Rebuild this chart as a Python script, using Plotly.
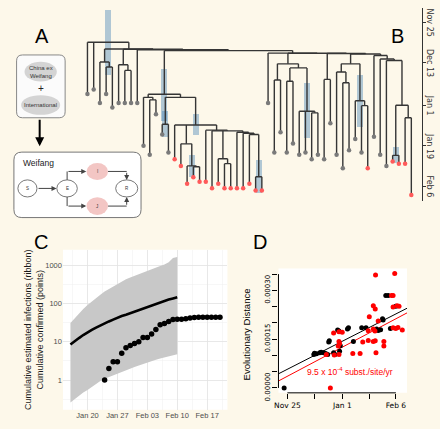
import plotly.graph_objects as go
import pandas as pd

W, H = 440, 429
CREAM = "#FDF8EA"
FONT = "Liberation Sans, Arial, sans-serif"

# ---------------- Panel B: time-scaled tree -----------------
tree_tick_days = [0, 18, 37, 55, 73]
tree_tick_text = ["Nov 25", "Dec 13", "Jan 1", "Jan 19", "Feb 6"]

tip_days = [32, 30, 36, 32, 38, 36, 36, 36, 36,
            55, 59, 41, 50, 58, 61, 64, 72, 69, 71, 71, 74, 72, 74, 74, 74, 74, 72, 75, 75,
            36, 58, 49, 58, 54, 59, 58, 61, 59, 61, 45, 59, 65, 57, 52, 58, 65, 51, 59, 64,
            62, 63, 63, 77]
red_tips = [14, 15, 16, 17, 18, 19, 20, 21, 22, 23, 24, 25, 26, 27, 28, 45, 49, 50, 51, 52]

tree_nodes = {
    "root": (9.0, [0, 1, "A"]),
    "A": (12.0, ["N1", "A2"]),
    "A2": (12.1, ["N2", "A3"]),
    "A3": (12.3, [8, "B"]),
    "N1": (17.8, [2, "N1a"]),
    "N1a": (20.0, [3, 4]),
    "N2": (19.0, [5, "N2a"]),
    "N2a": (21.5, [6, 7]),
    "B": (12.7, ["C2", "D"]),
    "C2": (32.1, ["P", "Q"]),
    "P": (33.5, [9, "P1"]),
    "P1": (34.6, [10, 11]),
    "Q": (33.5, ["Q1", "S"]),
    "Q1": (45.5, [12, 13]),
    "S": (45.8, [14, "S1", "T"]),
    "S1": (54.2, [15, "S2"]),
    "S2": (64.0, [16, "S3"]),
    "S3": (64.4, [17, 18]),
    "T": (48.1, [19, "T2"]),
    "T2": (48.4, [20, "U", "T3"]),
    "U": (60.8, [21, "U1"]),
    "U1": (63.0, [22, 23]),
    "T3": (49.0, [24, "T4"]),
    "T4": (49.5, [25, "T5"]),
    "T5": (50.0, [26, "V"]),
    "V": (68.8, [27, 28]),
    "D": (13.8, [29, "D2"]),
    "D2": (13.9, ["E1", "D3"]),
    "D3": (14.0, ["E2", "D4"]),
    "D4": (14.2, ["E3", "F"]),
    "E1": (18.6, ["E1a", "E1b"]),
    "E1a": (25.8, [30, 31]),
    "E1b": (20.4, ["E1c", "E1d"]),
    "E1c": (26.3, [32, 33]),
    "E1d": (39.7, [34, 35, "E1e"]),
    "E1e": (40.4, [36, 37]),
    "E2": (25.5, [38, 39]),
    "E3": (18.6, ["E3a", "E3c"]),
    "E3a": (22.2, [40, "E3b"]),
    "E3b": (27.0, [41, 42]),
    "E3c": (35.0, [43, "E3d"]),
    "E3d": (37.2, [44, 45]),
    "F": (14.9, [46, "G"]),
    "G": (16.4, [47, "H"]),
    "H": (17.1, [48, "I"]),
    "I": (37.0, ["I1", "I2"]),
    "I1": (59.3, [49, 50]),
    "I2": (42.6, [51, 52]),
}

# node-height 95% HPD intervals (days since Nov 25)
hpd_nodes = ["root", "C2", "Q1", "S", "S2", "V", "E1d", "E3c", "I1"]
hpd_low = [-5.5, 20.7, 39.7, 40.8, 59.3, 61.5, 27.3, 23.4, 55.6]
hpd_high = [23.4, 43.8, 51.0, 50.1, 68.8, 76.1, 51.6, 46.6, 62.7]

# ---------------- Panel C: epidemic curve -----------------
est_dates = pd.date_range("2020-01-16", "2020-02-10", freq="D")
est_mean = [8.5, 10.5, 12.5, 15, 18, 20.5, 23.5, 27, 30, 34, 38, 43, 47, 51, 56,
            61, 66, 72, 80, 89, 99, 109, 118, 127, 136, 146]
est_low = [0.26, 0.32, 0.39, 0.47, 0.55, 0.67, 0.8, 0.95, 1.08, 1.2, 1.35, 1.5, 1.68,
           1.85, 2.0, 2.2, 2.4, 2.65, 2.9, 3.15, 3.4, 3.65, 3.9, 4.15, 4.4, 4.7]
est_high = [31, 42, 55, 72, 92, 115, 140, 170, 205, 240, 280, 330, 380, 430, 480,
            530, 590, 650, 730, 820, 880, 960, 1050, 1200, 1550, 1650]
conf_dates = pd.date_range("2020-01-24", "2020-02-20", freq="D")
conf_cases = [1, 2, 3, 3, 5, 7, 8, 9, 10, 13, 13, 16, 21, 28, 30, 34, 38, 39, 39, 40,
              42, 43, 44, 44, 44, 44, 44, 44]
c_tick_dates = ["2020-01-20", "2020-01-27", "2020-02-03", "2020-02-10", "2020-02-17"]
c_tick_text = ["Jan 20", "Jan 27", "Feb 03", "Feb 10", "Feb 17"]
c_minor_dates = ["2020-01-16 12:00", "2020-01-23 12:00", "2020-01-30 12:00",
                 "2020-02-06 12:00", "2020-02-13 12:00", "2020-02-20 12:00"]

# ---------------- Panel D: root-to-tip regression -----------------
d_black_day = [-2.2, 17.8, 18.2, 19.6, 21.8, 22.7, 24.4, 25.8, 27.1, 27.8, 28.2, 31.1, 32.0,
               33.8, 34.7, 35.1, 35.6, 40.4, 41.1, 44.4, 50.0, 52.9, 60.0, 61.1, 62.7,
               64.0, 64.4, 66.2, 67.8, 69.3, 72.9]
d_black_dist = [0.0, 10.3, 10.7, 10.5, 10.8, 11.0, 10.8, 10.6, 10.3, 14.1, 14.5, 10.8, 10.3,
                17.8, 17.5, 11.3, 13.0, 18.1, 18.5, 14.3, 18.5, 18.5, 18.1, 17.7, 17.9,
                21.3, 20.9, 28.4, 28.4, 18.3, 25.1]
d_red_day = [59.3, 72.2, 70.0, 71.1, 57.8, 59.1, 71.1, 73.8, 75.1, 55.1, 61.1, 31.1, 34.7,
             36.9, 54.4, 57.8, 58.9, 71.1, 72.9, 74.4, 77.3, 34.7, 35.1, 34.2, 34.7, 44.0,
             48.9, 50.7, 54.4, 57.8, 59.1, 64.9, 64.9, 59.6, 28.9, 26.2, 31.5]
d_red_dist = [34.7, 35.2, 28.4, 28.4, 25.3, 24.3, 24.9, 25.3, 25.1, 21.9, 20.6, 16.9, 17.3,
              17.1, 17.6, 18.1, 17.5, 18.5, 18.3, 18.6, 17.8, 14.3, 13.7, 12.9, 10.3, 10.6,
              10.6, 14.1, 14.6, 14.3, 14.5, 14.3, 12.9, 10.8, 0.0, 10.3, 10.1]
d_dist_scale = 1e-5
fit_black = (5.75e-5, 2.33e-6)   # intercept, slope per day
fit_red = (3.6e-5, 2.42e-6)
d_tick_days = [0, 18, 37, 55, 73]
d_tick_text = ["Nov 25", "", "Jan 1", "", "Feb 6"]
d_ytick_vals = [0, 5e-5, 1e-4, 1.5e-4, 2e-4, 2.5e-4, 3e-4, 3.5e-4]
d_ytick_text = ["0.00000", "", "", "0.00015", "", "", "0.00030", ""]


def X(px):
    return px / W


def Y(py):
    return 1 - py / H


# ---- tree layout ----
node_x = {}


def lay(n):
    if isinstance(n, int):
        return float(n)
    t, ch = tree_nodes[n]
    xs = [lay(c) for c in ch]
    node_x[n] = (xs[0] + xs[-1]) / 2
    return node_x[n]


lay("root")


def node_t(n):
    return tip_days[n] if isinstance(n, int) else tree_nodes[n][0]


def node_pos(n):
    return float(n) if isinstance(n, int) else node_x[n]


sx, sy = [], []
for name, (t, ch) in tree_nodes.items():
    xs = [node_pos(c) for c in ch]
    sx += [min(xs), max(xs), None]
    sy += [t, t, None]
    for c in ch:
        sx += [node_pos(c), node_pos(c), None]
        sy += [t, node_t(c), None]

fig = go.Figure()

fig.add_trace(go.Scatter(x=sx, y=sy, mode="lines", line=dict(color="#353535", width=1.4),
                         xaxis="x", yaxis="y", hoverinfo="skip"))
gray_idx = [i for i in range(len(tip_days)) if i not in red_tips]
fig.add_trace(go.Scatter(x=gray_idx, y=[tip_days[i] for i in gray_idx], mode="markers",
                         marker=dict(color="#7a7a7a", size=4.5), xaxis="x", yaxis="y"))
fig.add_trace(go.Scatter(x=red_tips, y=[tip_days[i] for i in red_tips], mode="markers",
                         marker=dict(color="#ff5a5a", size=4.5), xaxis="x", yaxis="y"))
fig.add_trace(go.Bar(x=[node_x[n] for n in hpd_nodes],
                     y=[h - l for l, h in zip(hpd_low, hpd_high)], base=hpd_low,
                     width=0.95, marker=dict(color="rgba(70,130,180,0.42)", line=dict(width=0)),
                     xaxis="x", yaxis="y"))

# ---- panel C ----
fig.add_trace(go.Scatter(x=est_dates, y=est_low, mode="lines", line=dict(width=0),
                         xaxis="x2", yaxis="y2", hoverinfo="skip"))
fig.add_trace(go.Scatter(x=est_dates, y=est_high, mode="lines", line=dict(width=0),
                         fill="tonexty", fillcolor="rgb(200,200,200)",
                         xaxis="x2", yaxis="y2", hoverinfo="skip"))
fig.add_trace(go.Scatter(x=est_dates, y=est_mean, mode="lines",
                         line=dict(color="black", width=2.6), xaxis="x2", yaxis="y2"))
fig.add_trace(go.Scatter(x=conf_dates, y=conf_cases, mode="markers",
                         marker=dict(color="black", size=5.5), xaxis="x2", yaxis="y2"))

# ---- panel D ----
xr = [-6.0, 80.47]
for (b0, b1), col in [(fit_black, "black"), (fit_red, "red")]:
    fig.add_trace(go.Scatter(x=xr, y=[b0 + b1 * v for v in xr], mode="lines",
                             line=dict(color=col, width=1), xaxis="x3", yaxis="y3"))
fig.add_trace(go.Scatter(x=d_black_day, y=[v * d_dist_scale for v in d_black_dist],
                         mode="markers", marker=dict(color="black", size=5),
                         xaxis="x3", yaxis="y3"))
fig.add_trace(go.Scatter(x=d_red_day, y=[v * d_dist_scale for v in d_red_dist],
                         mode="markers", marker=dict(color="red", size=5),
                         xaxis="x3", yaxis="y3"))

shapes = []
ann = []


def rrect(L, T, R, B, r, fill, line="#777777", lw=1):
    p = (f"M {X(L + r)},{Y(T)} L {X(R - r)},{Y(T)} Q {X(R)},{Y(T)} {X(R)},{Y(T + r)} "
         f"L {X(R)},{Y(B - r)} Q {X(R)},{Y(B)} {X(R - r)},{Y(B)} "
         f"L {X(L + r)},{Y(B)} Q {X(L)},{Y(B)} {X(L)},{Y(B - r)} "
         f"L {X(L)},{Y(T + r)} Q {X(L)},{Y(T)} {X(L + r)},{Y(T)} Z")
    shapes.append(dict(type="path", xref="paper", yref="paper", path=p, fillcolor=fill,
                       line=dict(color=line, width=lw), layer="below"))


def ell(L, T, R, B, fill, line=None, lw=1):
    shapes.append(dict(type="circle", xref="paper", yref="paper", x0=X(L), x1=X(R),
                       y0=Y(B), y1=Y(T), fillcolor=fill,
                       line=dict(color=line or fill, width=lw if line else 0)))


def seg(x0, y0, x1, y1, col="#444444", w=1):
    shapes.append(dict(type="line", xref="paper", yref="paper", x0=X(x0), y0=Y(y0),
                       x1=X(x1), y1=Y(y1), line=dict(color=col, width=w)))


def arrow(x0, y0, x1, y1, col="#444444", w=1, size=1.0):
    ann.append(dict(x=X(x1), y=Y(y1), xref="paper", yref="paper", ax=x0 - x1, ay=y0 - y1,
                    axref="pixel", ayref="pixel", text="", showarrow=True, arrowhead=2,
                    arrowsize=size, arrowwidth=w, arrowcolor=col, standoff=0))


def txt(x, y, s, size, col="#222222", xanchor="center", angle=0, family=FONT):
    ann.append(dict(x=X(x), y=Y(y), xref="paper", yref="paper", text=s, showarrow=False,
                    xanchor=xanchor, yanchor="middle", textangle=angle,
                    font=dict(size=size, color=col, family=family)))


# white plot regions for C and D
shapes.append(dict(type="rect", xref="x2 domain", yref="y2 domain", x0=0, x1=1, y0=0, y1=1,
                   fillcolor="white", line=dict(width=0), layer="below"))
shapes.append(dict(type="rect", xref="x3 domain", yref="y3 domain", x0=0, x1=1, y0=0, y1=1.02,
                   fillcolor="white", line=dict(width=0), layer="below"))
# R-style axis lines for D
shapes.append(dict(type="line", xref="x3", yref="y3 domain", x0=d_tick_days[0],
                   x1=d_tick_days[-1], y0=0, y1=0, line=dict(color="black", width=1)))
shapes.append(dict(type="line", xref="x3 domain", yref="y3", x0=0, x1=0, y0=d_ytick_vals[0],
                   y1=d_ytick_vals[-1], line=dict(color="black", width=1)))

# Panel A diagram
rrect(12.7, 56, 61.7, 120, 6, "#fbfbfb", "#888888", 1)
ell(20.7, 63, 53.3, 83, "#d4d4d4")
ell(17.3, 97, 56.7, 117, "#d4d4d4")
txt(37, 73, "China ex<br>Weifang", 6, "#333333")
txt(37, 90, "+", 10, "#222222")
txt(37, 107, "International", 6, "#333333")
arrow(36, 121, 36, 149, "black", 2, 0.9)
rrect(10, 155, 138.3, 221.7, 8, "white", "#777777", 1)
txt(17, 166, "Weifang", 8.5, "#222222", xanchor="left")
ell(14, 183.3, 33.3, 200.7, "white", "#555555", 0.8)
ell(53.3, 183.3, 74, 200.7, "white", "#555555", 0.8)
ell(112.7, 183.3, 135, 200.7, "white", "#555555", 0.8)
ell(83.3, 166, 105, 183.3, "#f3c6c4")
ell(83.3, 201, 105, 219, "#f3c6c4")
for (cx, cy, s) in [(23.7, 192, "S"), (63.7, 192, "E"), (94, 174.7, "I"), (94, 210, "J"),
                    (123.8, 192, "R")]:
    txt(cx, cy, s, 4.5, "#333333")
arrow(33.5, 192, 53, 192)
seg(63.7, 183.3, 63.7, 174.7)
arrow(63.7, 174.7, 83, 174.7)
seg(63.7, 200.7, 63.7, 210)
arrow(63.7, 210, 83, 210)
seg(105, 174.7, 123.8, 174.7)
arrow(123.8, 174.7, 123.8, 183.3)
seg(105, 210, 123.8, 210)
arrow(123.8, 210, 123.8, 200.7)

# panel letters
txt(38, 37, "A", 20, "black")
txt(397, 37, "B", 20, "black")
txt(37, 247, "C", 20, "black")
txt(258, 247, "D", 20, "black")

# tree time-axis labels (rotated, right of the axis line)
for d, s in zip(tree_tick_days, tree_tick_text):
    ann.append(dict(x=X(429.5), y=d, xref="paper", yref="y", text=s, showarrow=False,
                    xanchor="center", yanchor="middle", textangle=90,
                    font=dict(size=8, color="#333333", family="DejaVu Sans")))

# axis titles
txt(30.5, 336, "Cumulative estimated infections (ribbon)<br>Cumulative confirmed (points)",
    9, "#1a1a1a", angle=-90)
txt(245, 341, "Evolutionary Distance", 9.5, "black", angle=-90)
ann.append(dict(x=X(304), y=Y(379), xref="paper", yref="paper", showarrow=False,
                text="9.5 x 10<sup>-4</sup> subst./site/yr", xanchor="left", yanchor="middle",
                font=dict(size=8.5, color="red", family=FONT)))

fig.update_layout(
    width=W, height=H, margin=dict(l=0, r=0, t=0, b=0),
    paper_bgcolor=CREAM, plot_bgcolor="rgba(0,0,0,0)", showlegend=False, hovermode=False,
    shapes=shapes, annotations=ann, bargap=0,
    xaxis=dict(domain=[0, 422 / W], range=[-13.4, 53.74], visible=False, fixedrange=True),
    yaxis=dict(domain=[Y(205), Y(8)], range=[79.7, -6.33], anchor="x", side="right",
               showline=True, linecolor="#333333", linewidth=1.3, showgrid=False,
               zeroline=False, tickmode="array", tickvals=tree_tick_days,
               ticktext=["" for _ in tree_tick_days], ticks="outside", ticklen=3,
               tickcolor="#333333"),
    xaxis2=dict(domain=[59.5 / W, 225.5 / W], anchor="y2", type="date",
                range=["2020-01-14 06:00", "2020-02-21 18:00"], tickmode="array",
                tickvals=c_tick_dates, ticktext=c_tick_text, showgrid=True,
                gridcolor="#e2e2e2", gridwidth=0.8, zeroline=False, showline=False,
                ticks="", tickfont=dict(size=7.5, color="#4d4d4d", family=FONT),
                minor=dict(tickvals=c_minor_dates, showgrid=True, gridcolor="#f0f0f0",
                           gridwidth=0.5)),
    yaxis2=dict(domain=[Y(417.5), Y(254.4)], anchor="x2", type="log", range=[-0.775, 3.407],
                tickmode="array", tickvals=[1, 10, 100, 1000],
                ticktext=["1", "10", "100", "1000"], showgrid=True, gridcolor="#e2e2e2",
                gridwidth=0.8, zeroline=False, ticks="",
                tickfont=dict(size=7.5, color="#4d4d4d", family=FONT),
                minor=dict(tickvals=[10 ** -0.5, 10 ** 0.5, 10 ** 1.5, 10 ** 2.5],
                           showgrid=True, gridcolor="#f0f0f0", gridwidth=0.5)),
    xaxis3=dict(domain=[277 / W, 406.7 / W], anchor="y3", range=[-6.0, 80.47],
                tickmode="array", tickvals=d_tick_days, ticktext=d_tick_text,
                showgrid=False, zeroline=False, showline=False, ticks="outside",
                ticklen=5, tickcolor="black",
                tickfont=dict(size=7.5, color="black", family="DejaVu Sans")),
    yaxis3=dict(domain=[Y(400.3), Y(276)], anchor="x3", range=[-1.5e-5, 3.6e-4],
                tickmode="array", tickvals=d_ytick_vals, ticktext=d_ytick_text,
                showgrid=False, zeroline=False, showline=False, ticks="outside",
                ticklen=5, tickcolor="black", tickangle=-90,
                tickfont=dict(size=7, color="black", family="DejaVu Sans")),
)

fig.write_html("out.html", config={"displayModeBar": False, "staticPlot": True},
               post_script="document.body.style.margin='0px';"
                           "document.body.style.overflow='hidden';")
